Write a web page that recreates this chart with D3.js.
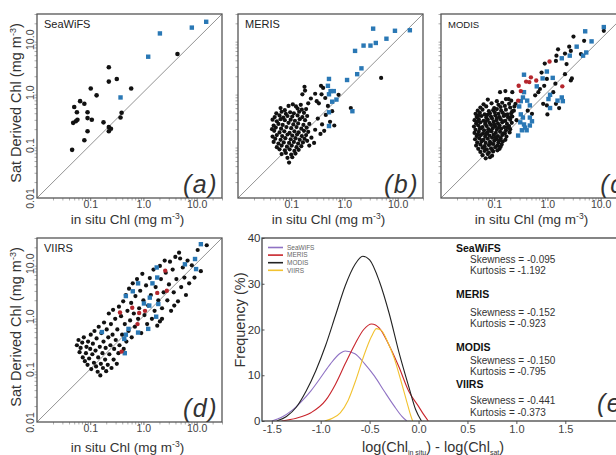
<!DOCTYPE html>
<html>
<head>
<meta charset="utf-8">
<script src="https://cdn.jsdelivr.net/npm/d3@7"></script>
<style>
  body { margin: 0; background: #fff; }
  svg { display: block; }
</style>
</head>
<body>
<div id="chart"></div>
<script>

// Chlorophyll matchups, stored as [log10(in situ Chl), log10(sat Chl)], mg m-3

const seawifsDots = [
  [-1.34,-1.09],[-1.30,-0.28],[-1.32,-0.58],[-1.27,-0.55],[-1.25,-0.38],[-1.24,-0.52],[-1.19,-0.17],
  [-1.11,-0.22],[-1.11,-0.91],[-1.05,-0.38],[-1.05,-0.49],[-1.05,-0.74],[-0.99,0.07],[-0.97,-0.52],
  [-0.88,-0.06],[-0.75,-0.57],[-0.65,0.47],[-0.65,0.20],[-0.65,-0.66],[-0.61,-0.69],[-0.65,-0.74],
  [-0.50,0.25],[-0.43,-0.48],[-0.41,-0.39],[-0.23,0.07],[0.64,0.72]
];
const seawifsSquares = [[-0.43,-0.10],[0.09,0.67],[0.31,1.11],[0.91,1.22],[1.18,1.33]];

const merisDots = [
  [-0.75,0.10],[-0.74,0.03],[-0.79,-0.04],[-0.55,-0.03],[-0.44,0.12],[-0.40,0.08],[-0.52,-0.17],[-0.48,-0.21],
  [-0.43,-0.04],[-0.36,-0.11],[-0.11,-0.05],[-0.63,-0.12],[-0.68,-0.21],[-0.31,-0.26],[-0.23,-0.36],[-0.35,-0.43],
  [-0.27,-0.56],[-0.19,-0.63],[-0.42,-0.61],[-0.50,-0.50],[-0.55,-0.71],[-0.45,-0.79],[-0.38,-0.73],[-0.62,-0.86],
  [-0.57,-0.96],[-0.66,-1.01],[-0.70,-0.92],[0.69,0.27],[0.12,-0.30],
  [-0.82,-0.24],[-0.91,-0.27],[-0.97,-0.23],[-1.05,-0.26],
  [-0.80,-0.33],[-0.88,-0.31],[-1.12,-0.34],[-1.20,-0.30],[-0.72,-0.32],
  [-0.76,-0.39],[-0.85,-0.37],[-0.95,-0.40],[-1.02,-0.38],[-1.10,-0.41],[-1.18,-0.37],[-1.28,-0.40],
  [-0.70,-0.45],[-0.79,-0.47],[-0.88,-0.44],[-0.98,-0.46],[-1.07,-0.45],[-1.15,-0.48],[-1.22,-0.44],[-1.31,-0.47],
  [-0.74,-0.53],[-0.84,-0.51],[-0.93,-0.54],[-1.01,-0.52],[-1.12,-0.53],[-1.20,-0.51],[-1.27,-0.55],[-1.35,-0.52],
  [-0.66,-0.60],[-0.77,-0.62],[-0.87,-0.59],[-0.96,-0.61],[-1.05,-0.58],[-1.16,-0.62],[-1.24,-0.60],[-1.33,-0.63],
  [-0.71,-0.67],[-0.81,-0.69],[-0.90,-0.66],[-1.00,-0.68],[-1.09,-0.66],[-1.19,-0.69],[-1.29,-0.67],[-1.36,-0.70],
  [-0.68,-0.75],[-0.76,-0.73],[-0.86,-0.76],[-0.94,-0.74],[-1.03,-0.77],[-1.13,-0.74],[-1.22,-0.76],[-1.32,-0.73],
  [-0.72,-0.81],[-0.80,-0.83],[-0.89,-0.80],[-0.98,-0.82],[-1.07,-0.80],[-1.17,-0.83],[-1.27,-0.81],[-1.35,-0.84],
  [-0.75,-0.88],[-0.84,-0.90],[-0.92,-0.87],[-1.01,-0.89],[-1.11,-0.87],[-1.20,-0.90],[-1.30,-0.88],
  [-0.78,-0.95],[-0.87,-0.97],[-0.95,-0.94],[-1.04,-0.96],[-1.14,-0.95],[-1.24,-0.97],[-1.33,-0.94],
  [-0.81,-1.02],[-0.90,-1.04],[-0.99,-1.01],[-1.08,-1.03],[-1.18,-1.01],[-1.27,-1.04],
  [-0.86,-1.09],[-0.94,-1.11],[-1.03,-1.08],[-1.12,-1.10],[-1.22,-1.08],
  [-0.92,-1.16],[-1.00,-1.18],[-1.10,-1.15],[-1.18,-1.17],
  [-0.98,-1.23],[-1.07,-1.24],[-1.04,-1.33]
];
const merisSquares = [
  [0.54,1.20],[0.95,1.16],[1.23,1.17],[0.79,1.01],[0.59,0.93],[0.49,0.88],[0.36,0.88],[0.20,0.78],
  [0.32,0.45],[0.24,0.34],[0.05,0.23],[-0.29,0.25],[-0.31,0.12],[-0.26,0.02],[-0.20,0.02],[-0.29,-0.04],
  [-0.15,-0.14],[-0.23,-0.18],[-0.29,-0.38],[-0.29,-0.64],[0.15,-0.36]
];

const modisDots = [
  // band toward high concentrations
  [1.06,1.16],[0.49,1.05],[0.69,0.97],[0.41,0.86],[0.20,0.81],[0.33,0.73],[0.44,0.78],[0.63,0.72],
  [0.16,0.59],[0.36,0.53],[-0.11,0.37],[-0.01,0.25],[0.15,0.16],[0.33,0.34],[0.44,0.22],[-0.14,0.06],
  [-0.06,0.12],[0.11,0.00],[0.16,-0.22],[0.22,-0.30],[0.00,-0.42],[-0.08,-0.22],[-0.01,-0.25],[-0.66,0.00],
  [-0.73,-0.13],[-0.89,0.00],[-0.79,0.02],[-0.60,-0.22],[-0.63,-0.35],[-0.69,-0.47],[-0.58,-0.53],[-0.29,-0.41],
  [-0.37,-0.35],[-0.23,-0.06],[-0.17,0.00],[0.17,0.69],[0.46,0.26],[-0.05,0.54],
  // dense low-concentration cloud
  [-1.12,-0.14],[-0.95,-0.17],[-0.78,-0.13],[-0.68,-0.16],
  [-1.20,-0.23],[-1.05,-0.21],[-0.92,-0.24],[-0.85,-0.20],[-0.72,-0.22],
  [-1.26,-0.29],[-1.15,-0.27],[-1.00,-0.30],[-0.88,-0.28],[-0.80,-0.26],[-0.70,-0.29],[-0.62,-0.27],
  [-1.31,-0.35],[-1.22,-0.33],[-1.10,-0.36],[-1.02,-0.34],[-0.95,-0.32],[-0.87,-0.35],[-0.78,-0.33],[-0.66,-0.36],
  [-1.35,-0.41],[-1.27,-0.39],[-1.18,-0.42],[-1.08,-0.40],[-0.99,-0.38],[-0.92,-0.41],[-0.84,-0.39],[-0.75,-0.42],[-0.68,-0.40],
  [-1.33,-0.47],[-1.24,-0.45],[-1.15,-0.48],[-1.06,-0.46],[-0.98,-0.44],[-0.90,-0.47],[-0.82,-0.45],[-0.74,-0.48],[-0.66,-0.46],
  [-1.37,-0.53],[-1.29,-0.51],[-1.20,-0.54],[-1.12,-0.52],[-1.04,-0.50],[-0.96,-0.53],[-0.88,-0.51],[-0.79,-0.54],[-0.70,-0.52],
  [-1.34,-0.59],[-1.26,-0.57],[-1.17,-0.60],[-1.09,-0.58],[-1.01,-0.56],[-0.93,-0.59],[-0.85,-0.57],[-0.76,-0.60],[-0.67,-0.58],
  [-1.38,-0.65],[-1.30,-0.63],[-1.22,-0.66],[-1.14,-0.64],[-1.06,-0.62],[-0.98,-0.65],[-0.90,-0.63],[-0.81,-0.66],[-0.72,-0.64],
  [-1.35,-0.71],[-1.27,-0.69],[-1.19,-0.72],[-1.11,-0.70],[-1.03,-0.68],[-0.95,-0.71],[-0.87,-0.69],[-0.78,-0.72],[-0.70,-0.70],
  [-1.37,-0.77],[-1.29,-0.75],[-1.21,-0.78],[-1.13,-0.76],[-1.05,-0.74],[-0.97,-0.77],[-0.89,-0.75],[-0.80,-0.78],[-0.71,-0.76],
  [-1.33,-0.83],[-1.25,-0.81],[-1.17,-0.84],[-1.09,-0.82],[-1.01,-0.80],[-0.93,-0.83],[-0.85,-0.81],[-0.77,-0.84],
  [-1.36,-0.89],[-1.28,-0.87],[-1.20,-0.90],[-1.12,-0.88],[-1.04,-0.86],[-0.96,-0.89],[-0.88,-0.87],[-0.79,-0.90],
  [-1.32,-0.95],[-1.24,-0.93],[-1.16,-0.96],[-1.08,-0.94],[-1.00,-0.92],[-0.92,-0.95],[-0.84,-0.93],
  [-1.34,-1.01],[-1.26,-0.99],[-1.18,-1.02],[-1.10,-1.00],[-1.02,-0.98],[-0.94,-1.01],[-0.86,-0.99],
  [-1.30,-1.07],[-1.22,-1.05],[-1.14,-1.08],[-1.06,-1.06],[-0.98,-1.04],[-0.90,-1.07],
  [-1.26,-1.13],[-1.18,-1.11],[-1.10,-1.14],[-1.02,-1.12],[-0.94,-1.10],
  [-1.22,-1.19],[-1.12,-1.17],[-1.04,-1.20],[-1.16,-1.25],[-1.08,-1.23],
  [-1.30,-0.44],[-1.13,-0.43],[-0.95,-0.49],[-0.79,-0.43],[-1.32,-0.56],[-1.16,-0.55],[-1.00,-0.61],[-0.83,-0.55],
  [-1.25,-0.68],[-1.08,-0.73],[-0.91,-0.67],[-0.75,-0.67],[-1.31,-0.80],[-1.15,-0.79],[-0.98,-0.85],[-0.83,-0.78],
  [-1.23,-0.91],[-1.06,-0.97],[-0.90,-0.91],[-1.20,-1.04],[-1.04,-1.09],[-0.88,-1.03]
];
const modisSquares = [
  [1.06,1.23],[0.71,1.15],[0.83,0.96],[0.55,0.86],[0.73,0.75],[0.67,0.69],[0.42,0.69],[0.27,0.64],
  [-0.01,0.39],[0.10,0.27],[-0.09,0.26],[-0.20,0.11],[-0.44,0.33],[-0.46,-0.10],[-0.44,0.00],[-0.50,-0.17],
  [-0.53,-0.27],[-0.38,-0.16],[-0.33,-0.25],[0.05,-0.05],[0.02,-0.13],[0.05,-0.30],[0.19,-0.16],[0.27,-0.10],
  [0.29,-0.17],[-0.50,-0.42],[-0.46,-0.48],[-0.33,-0.48],[-0.29,-0.55],[-0.51,-0.57],[-0.44,-0.61],[-0.42,-0.67],
  [-0.55,-0.82],[-0.48,-0.72],[-0.39,-0.72],[-0.33,-0.63]
];
const modisRed = [
  [0.04,0.58],[-0.31,0.28],[-0.34,0.19],[-0.40,0.20],[-0.21,0.22],[-0.54,0.12],[-0.50,0.02],[-0.55,-0.16],[0.28,0.11]
];

const viirsDots = [
  [-1.25,-0.55],[-1.22,-0.45],[-1.20,-0.68],[-1.18,-0.60],[-1.15,-0.50],[-1.14,-0.78],[-1.12,-0.40],[-1.10,-0.85],
  [-1.08,-0.70],[-1.07,-0.58],[-1.05,-0.92],[-1.04,-0.48],[-1.02,-0.80],[-1.00,-0.62],[-0.99,-0.35],[-0.98,-1.00],
  [-0.96,-0.72],[-0.95,-0.52],[-0.93,-0.88],[-0.92,-0.28],[-0.90,-0.65],[-0.89,-0.95],[-0.88,-0.42],[-0.86,-1.05],
  [-0.85,-0.78],[-0.84,-0.20],[-0.82,-0.58],[-0.81,-1.12],[-0.80,-0.90],[-0.79,-0.32],[-0.77,-0.70],[-0.76,-0.98],
  [-0.75,-0.48],[-0.74,-0.12],[-0.72,-0.82],[-0.71,-0.60],[-0.70,-1.04],[-0.69,-0.25],[-0.67,-0.92],[-0.66,-0.40],
  [-0.65,0.05],[-0.64,-0.72],[-0.62,-0.55],[-0.61,-0.15],[-0.60,-0.98],[-0.58,-0.35],[-0.57,0.12],[-0.56,-0.82],
  [-0.55,-0.62],[-0.53,-0.05],[-0.52,-0.45],[-0.50,-0.90],[-0.49,-0.25],[-0.47,-0.70],[-0.46,0.18],[-0.45,-0.55],
  [-0.42,0.00],[-0.40,-0.35],[-0.38,0.28],[-0.37,-0.62],[-0.35,-0.15],[-0.33,0.40],[-0.32,-0.48],[-0.30,0.10],
  [-0.28,-0.28],[-0.27,0.52],[-0.25,-0.08],[-0.23,0.25],[-0.22,-0.40],[-0.20,0.62],[-0.18,0.05],[-0.16,-0.20],
  [-0.15,0.38],[-0.12,0.70],[-0.10,-0.05],[-0.08,0.15],[-0.06,0.48],[-0.04,-0.32],[-0.02,0.80],[0.00,0.30],
  [0.02,0.02],[0.05,0.58],[0.07,-0.15],[0.09,0.20],[0.12,0.72],[0.14,0.40],[0.16,-0.05],[0.19,0.88],
  [0.21,0.10],[0.23,0.55],[0.26,-0.18],[0.28,0.30],[0.31,0.95],[0.33,0.70],[0.35,0.15],[0.38,0.45],
  [0.40,1.05],[0.42,0.82],[0.45,0.30],[0.48,0.60],[0.50,1.03],[0.52,0.10],[0.55,0.88],[0.57,0.45],
  [0.60,1.12],[0.62,0.70],[0.65,0.28],[0.67,1.20],[0.69,1.09],[0.71,0.55],[0.74,0.92],[0.77,0.73],
  [0.80,0.40],[0.83,1.05],[0.86,0.62],[0.91,0.96],[0.96,0.73],[1.02,1.25],[1.08,0.85],[1.19,1.34],
  [0.58,0.20],[0.35,-0.05],[0.31,-0.10]
];
const viirsSquares = [
  [0.97,1.08],[0.99,0.89],[0.78,0.98],[1.08,1.36],[0.25,0.92],[0.26,0.73],[0.17,0.62],[-0.10,0.62],
  [-0.20,0.47],[-0.33,0.38],[0.12,0.35],[0.01,0.24],[0.11,0.20],[0.28,0.23],[0.24,-0.01],[0.09,-0.24],
  [-0.10,-0.31],[-0.28,-0.24],[-0.33,-0.35],[-0.36,-0.43],[-0.78,-0.30],[-0.35,-0.70]
];
const viirsRed = [
  [0.41,0.86],[0.26,0.44],[0.44,0.48],[-0.21,0.16],[-0.08,0.06],[0.03,0.10],[-0.44,0.07],[-0.11,-0.15],[-0.41,-0.67]
];

// Frequency of log(Chl in situ) - log(Chl sat), [difference, %]
const seawifsFreq = [[-1.5,0],[-1.4,0.8],[-1.3,2.2],[-1.2,4.2],[-1.1,6.6],[-1.0,9.5],[-0.9,12.5],[-0.8,14.8],
  [-0.75,15.3],[-0.65,14.7],[-0.55,12.5],[-0.45,9.8],[-0.35,6.5],[-0.25,3.3],[-0.17,1],[-0.12,0]];
const merisFreq = [[-1.4,0],[-1.25,0.6],[-1.1,1.8],[-0.95,4.5],[-0.85,8],[-0.75,12.5],[-0.65,16.8],[-0.56,20],
  [-0.48,21.2],[-0.4,20.3],[-0.3,16.5],[-0.2,11.8],[-0.1,6.5],[0.0,3.2],[0.05,1.5],[0.1,0]];
const modisFreq = [[-1.45,0],[-1.35,1],[-1.25,3],[-1.15,6.5],[-1.05,11],[-0.95,16.5],[-0.85,23],[-0.75,29.5],
  [-0.65,34.2],[-0.57,36],[-0.5,35.2],[-0.4,30.5],[-0.3,23.5],[-0.2,15],[-0.1,7.5],[-0.03,2.5],[0.03,0]];
const viirsFreq = [[-0.96,0],[-0.88,0.6],[-0.8,1.8],[-0.72,4.5],[-0.64,9],[-0.56,14.2],[-0.48,18.5],[-0.43,20.2],
  [-0.38,19.8],[-0.32,17.5],[-0.25,13.8],[-0.18,8.8],[-0.12,4.2],[-0.08,1.2],[-0.06,0]];

const sensors = ["SeaWiFS", "MERIS", "MODIS", "VIIRS"];
const skewness = [-0.095, -0.152, -0.150, -0.441];
const kurtosis = [-1.192, -0.923, -0.795, -0.373];
const xTicksE = [-1.5, -1.0, -0.5, 0.0, 0.5, 1.0, 1.5];
const yTicksE = [0, 10, 20, 30, 40];
const chlTicks = [0.01, 0.1, 1, 10];


// Page setup
const width = 616;
const height = 455;
const font = "'Liberation Sans', Arial, sans-serif";
const black = "#111", blue = "#2a78b5", red = "#b5262d";

const svg = d3.select("#chart")
  .append("svg")
  .attr("width", width)
  .attr("height", height)
  .attr("font-family", font);

const pw = 185, ph = 184;
const toChl = p => [10 ** p[0], 10 ** p[1]];

/*

  Scatter panels (a)-(d)

*/

function scatterPanel(opt) {
  const g = svg.append("g").attr("transform", `translate(${opt.left},${opt.top})`);
  const x = d3.scaleLog().domain([0.01, 30]).range([0, pw]);
  const y = d3.scaleLog().domain([0.01, 30]).range([ph, 0]);

  g.append("clipPath").attr("id", "clip-" + opt.id)
    .append("rect").attr("width", pw).attr("height", ph);

  // minor ticks at 2..9 of every decade
  const minor = x.ticks().filter(v => Math.abs(Math.log10(v) - Math.round(Math.log10(v))) > 1e-6);

  const xMinor = g.append("g").attr("transform", `translate(0,${ph})`)
    .call(d3.axisBottom(x).tickValues(minor).tickSize(2.5).tickFormat(""));
  const yMinor = g.append("g")
    .call(d3.axisLeft(y).tickValues(minor).tickSize(2.5).tickFormat(""));
  [xMinor, yMinor].forEach(a => {
    a.select(".domain").remove();
    a.selectAll("line").attr("stroke", "#999").attr("stroke-width", 0.8);
  });

  const xAxis = g.append("g").attr("transform", `translate(0,${ph})`)
    .call(d3.axisBottom(x).tickValues(chlTicks.slice(1)).tickSize(3).tickPadding(0)
      .tickFormat(d3.format(".1f")))
    .attr("font-family", font).attr("font-size", 10.5);
  xAxis.select(".domain").remove();
  xAxis.selectAll("line").attr("stroke", "#777");
  xAxis.selectAll("text").attr("fill", "#444");

  if (opt.yLabels) {
    const yAxis = g.append("g")
      .call(d3.axisLeft(y).tickValues(chlTicks).tickSize(0)
        .tickFormat(d => d < 0.05 ? "0.01" : d3.format(".1f")(d)))
      .attr("font-family", font).attr("font-size", 10.5);
    yAxis.select(".domain").remove();
    yAxis.selectAll("text")
      .attr("x", null).attr("dy", null)
      .attr("text-anchor", "middle")
      .attr("fill", "#444")
      .attr("transform", "translate(-3,0) rotate(-90)");

    const yt = g.append("text")
      .attr("transform", `translate(-16,${ph / 2 - 3}) rotate(-90)`)
      .attr("text-anchor", "middle")
      .attr("font-size", 14.5)
      .attr("fill", "#333");
    yt.append("tspan").text("Sat Derived Chl (mg m");
    yt.append("tspan").attr("font-size", 9).attr("dy", -5).text("-3");
    yt.append("tspan").attr("dy", 5).text(")");
  }

  // 1:1 line
  g.append("line")
    .attr("x1", x(0.01)).attr("y1", y(0.01))
    .attr("x2", x(30)).attr("y2", y(30))
    .attr("stroke", "#777").attr("stroke-width", 0.8);

  const marks = g.append("g").attr("clip-path", `url(#clip-${opt.id})`);

  marks.selectAll(".dot")
    .data(opt.dots.map(toChl))
    .enter()
    .append("circle")
      .attr("class", "dot")
      .attr("cx", d => x(d[0]))
      .attr("cy", d => y(d[1]))
      .attr("r", opt.r || 2.1)
      .attr("fill", black);

  marks.selectAll(".sq")
    .data(opt.squares.map(toChl))
    .enter()
    .append("rect")
      .attr("class", "sq")
      .attr("x", d => x(d[0]) - 2.2)
      .attr("y", d => y(d[1]) - 2.2)
      .attr("width", 4.4)
      .attr("height", 4.4)
      .attr("fill", blue);

  marks.selectAll(".red")
    .data((opt.reds || []).map(toChl))
    .enter()
    .append("circle")
      .attr("class", "red")
      .attr("cx", d => x(d[0]))
      .attr("cy", d => y(d[1]))
      .attr("r", 2.2)
      .attr("fill", red);

  // frame
  g.append("rect")
    .attr("width", pw).attr("height", ph)
    .attr("fill", "none").attr("stroke", "#555").attr("stroke-width", 1.3);

  g.append("text")
    .attr("x", 7).attr("y", 14)
    .attr("font-size", opt.nameSize || 11)
    .attr("fill", "#222")
    .text(opt.name);

  g.append("text")
    .attr("x", opt.tagX || pw - 4).attr("y", ph - 5)
    .attr("text-anchor", "end")
    .attr("font-size", 25)
    .attr("font-style", "italic")
    .attr("letter-spacing", 1.5)
    .attr("fill", "#333")
    .text(opt.tag);

  const xt = g.append("text")
    .attr("x", pw / 2 - 2).attr("y", ph + opt.titleDy)
    .attr("text-anchor", "middle")
    .attr("font-size", 13.5)
    .attr("fill", "#333");
  xt.append("tspan").text("in situ Chl (mg m");
  xt.append("tspan").attr("font-size", 8.5).attr("dy", -5).text("-3");
  xt.append("tspan").attr("dy", 5).text(")");
}

scatterPanel({id: "a", left: 37, top: 14, name: "SeaWiFS", tag: "(a)", yLabels: true, titleDy: 26, r: 2.3,
  dots: seawifsDots, squares: seawifsSquares});
scatterPanel({id: "b", left: 238, top: 14, name: "MERIS", tag: "(b)", titleDy: 26,
  dots: merisDots, squares: merisSquares});
scatterPanel({id: "c", left: 441, top: 14, name: "MODIS", nameSize: 9.5, tag: "(c)", tagX: pw + 8, titleDy: 26,
  dots: modisDots, squares: modisSquares, reds: modisRed});
scatterPanel({id: "d", left: 37, top: 238, name: "VIIRS", tag: "(d)", yLabels: true, titleDy: 30,
  dots: viirsDots, squares: viirsSquares, reds: viirsRed});

/*

  Frequency panel (e)

*/

const eLeft = 262, eTop = 238, eW = 362, eH = 183;
const ge = svg.append("g").attr("transform", `translate(${eLeft},${eTop})`);

const xE = d3.scaleLinear().domain([-1.6, 2.1]).range([0, eW]);
const yE = d3.scaleLinear().domain([0, 40]).range([eH, 0]);

const xAxisE = ge.append("g").attr("transform", `translate(0,${eH})`)
  .call(d3.axisBottom(xE).tickValues(xTicksE).tickSize(3).tickPadding(1.5)
    .tickFormat(d => d3.format(".1f")(d).replace("\u2212", "-")))
  .attr("font-family", font).attr("font-size", 11);
xAxisE.select(".domain").remove();
xAxisE.selectAll("line").attr("stroke", "#555");
xAxisE.selectAll("text").attr("fill", "#444");

// y ticks cross into the plot, labels sit right against the axis
const yAxisE = ge.append("g")
  .call(d3.axisLeft(yE).tickValues(yTicksE).tickSizeInner(-2.5).tickSizeOuter(0).tickPadding(1.5))
  .attr("font-family", font).attr("font-size", 11.5);
yAxisE.select(".domain").remove();
yAxisE.selectAll("line").attr("stroke", "#555");
yAxisE.selectAll("text").attr("fill", "#333");

ge.append("clipPath").attr("id", "clip-e")
  .append("rect").attr("width", eW).attr("height", eH);

const freqSeries = [
  {name: "SeaWiFS", color: "#8f72c4", values: seawifsFreq},
  {name: "MERIS", color: "#c8242b", values: merisFreq},
  {name: "MODIS", color: "#222222", values: modisFreq},
  {name: "VIIRS", color: "#f2c230", values: viirsFreq}
];

const freqLine = d3.line()
  .x(d => xE(d[0]))
  .y(d => yE(d[1]))
  .curve(d3.curveMonotoneX);

ge.append("g").attr("clip-path", "url(#clip-e)")
  .selectAll("path")
  .data(freqSeries)
  .enter()
  .append("path")
    .attr("d", d => freqLine(d.values))
    .attr("fill", "none")
    .attr("stroke", d => d.color)
    .attr("stroke-width", 1.1);

ge.append("rect")
  .attr("width", eW).attr("height", eH)
  .attr("fill", "none").attr("stroke", "#444").attr("stroke-width", 1.3);

// legend
const legend = ge.selectAll(".leg")
  .data(freqSeries)
  .enter()
  .append("g")
    .attr("class", "leg")
    .attr("transform", (d, i) => `translate(6,${9.5 + i * 7.6})`);
legend.append("line")
  .attr("x1", 0).attr("x2", 15)
  .attr("stroke", d => d.color).attr("stroke-width", 1.6);
legend.append("text")
  .attr("x", 19).attr("dy", "0.35em")
  .attr("font-size", 6.5)
  .attr("fill", "#666")
  .text(d => d.name);

// statistics block
const nameY = [251.7, 298.3, 351, 388.3];
const skewY = [262.7, 315.7, 364.3, 404];
const kurtY = [274.3, 327.3, 375, 415.7];
const fmt3 = d3.format(".3f");
sensors.forEach((s, i) => {
  svg.append("text").attr("x", 456).attr("y", nameY[i])
    .attr("font-size", 10.5).attr("font-weight", "bold").attr("fill", "#111").text(s);
  svg.append("text").attr("x", 470).attr("y", skewY[i])
    .attr("font-size", 10).attr("fill", "#333")
    .text("Skewness = " + fmt3(skewness[i]).replace("\u2212", "-"));
  svg.append("text").attr("x", 470).attr("y", kurtY[i])
    .attr("font-size", 10).attr("fill", "#333")
    .text("Kurtosis = " + fmt3(kurtosis[i]).replace("\u2212", "-"));
});

svg.append("text")
  .attr("x", 597).attr("y", 412)
  .attr("font-size", 25).attr("font-style", "italic").attr("letter-spacing", 1.5)
  .attr("fill", "#333")
  .text("(e)");

// axis titles
svg.append("text")
  .attr("transform", `translate(245,320) rotate(-90)`)
  .attr("text-anchor", "middle")
  .attr("font-size", 14.5)
  .attr("fill", "#333")
  .text("Frequency (%)");

const lt = svg.append("text")
  .attr("x", 362).attr("y", 452)
  .attr("font-size", 14.5)
  .attr("fill", "#333");
lt.append("tspan").text("log(Chl");
lt.append("tspan").attr("font-size", 7).attr("dy", 3).text("in situ");
lt.append("tspan").attr("dy", -3).text(") - log(Chl");
lt.append("tspan").attr("font-size", 7).attr("dy", 3).text("sat");
lt.append("tspan").attr("dy", -3).text(")");

</script>
</body>
</html>
